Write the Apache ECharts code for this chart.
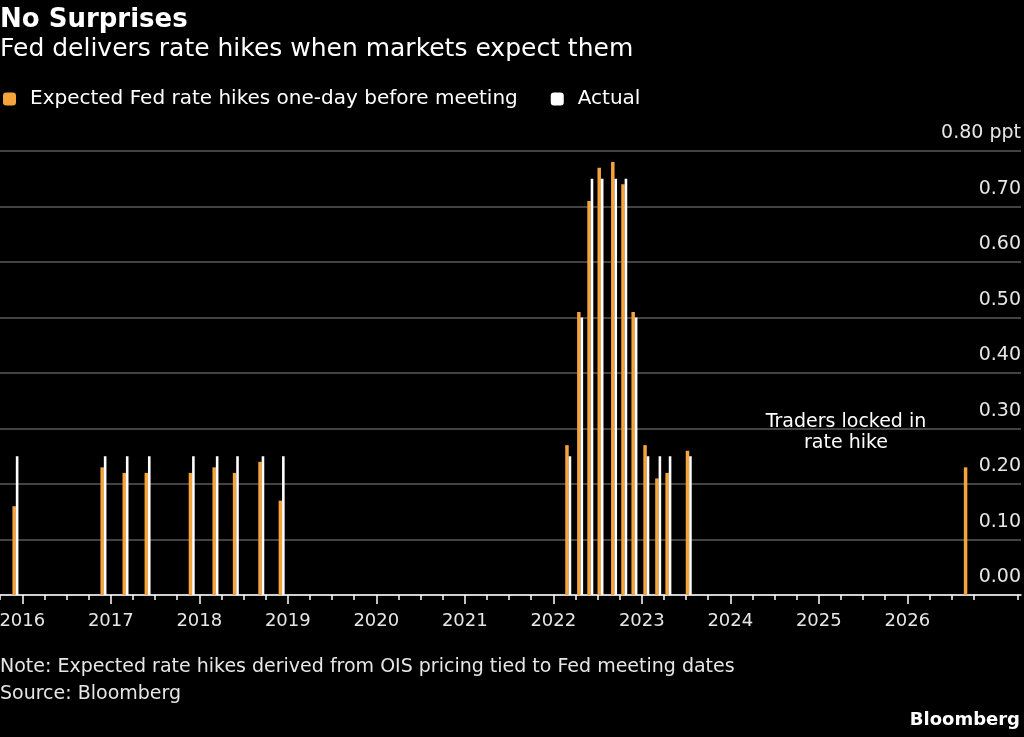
<!DOCTYPE html>
<html>
<head>
  <meta charset="UTF-8">
  <script src="https://cdn.jsdelivr.net/npm/echarts@6/dist/echarts.min.js"></script>
  <style>
    html, body { margin: 0; padding: 0; background: #000; }
    #main { width: 1024px; height: 737px; }
  </style>
</head>
<body>
  <div id="main"></div>
  <script>
    // Fed meeting dates with a hike
    var meetingDates = ['2015-12-16', '2016-12-14', '2017-03-15', '2017-06-14', '2017-12-13',
      '2018-03-21', '2018-06-13', '2018-09-26', '2018-12-19',
      '2022-03-16', '2022-05-04', '2022-06-15', '2022-07-27', '2022-09-21', '2022-11-02',
      '2022-12-14', '2023-02-01', '2023-03-22', '2023-05-03', '2023-07-26', '2026-09-16'];
    // expected hike one day before meeting (ppt)
    var expectedHikes = [0.16, 0.23, 0.22, 0.22, 0.22, 0.23, 0.22, 0.24, 0.17,
      0.27, 0.51, 0.71, 0.77, 0.78, 0.74, 0.51, 0.27, 0.21, 0.22, 0.26, 0.23];
    // actual hike delivered (ppt)
    var actualHikes = [0.25, 0.25, 0.25, 0.25, 0.25, 0.25, 0.25, 0.25, 0.25,
      0.25, 0.50, 0.75, 0.75, 0.75, 0.75, 0.50, 0.25, 0.25, 0.25, 0.25, null];
    var yearTicks = [2016, 2017, 2018, 2019, 2020, 2021, 2022, 2023, 2024, 2025, 2026];

    var ORANGE = '#F5A33C';
    var FONT = '"DejaVu Sans"';

    function toYear(d) {
      var t = Date.parse(d + 'T00:00:00Z');
      var y = new Date(t).getUTCFullYear();
      var s = Date.UTC(y, 0, 1), e = Date.UTC(y + 1, 0, 1);
      return y + (t - s) / (e - s);
    }

    function pairs(vals) {
      var out = [];
      for (var i = 0; i < meetingDates.length; i++) {
        if (vals[i] != null) out.push([toYear(meetingDates[i]), vals[i]]);
      }
      return out;
    }

    var quarterTicks = [];
    for (var y = 2015; y <= 2027; y++) {
      [0.25, 0.5, 0.75].forEach(function (q) { quarterTicks.push(y + q); });
    }

    // thin bars drawn left of the meeting date
    function barRender(dx, w) {
      return function (params, api) {
        var top = api.coord([api.value(0), api.value(1)]);
        var base = api.coord([api.value(0), 0]);
        return {
          type: 'rect',
          shape: { x: top[0] + dx, y: top[1], width: w, height: base[1] - top[1] },
          style: { fill: api.visual('color') }
        };
      };
    }

    var xMin = 2015.748, xMax = 2027.285;

    var myChart = echarts.init(document.getElementById('main'));
    myChart.setOption({
      backgroundColor: '#000',
      animation: false,
      textStyle: { fontFamily: FONT },
      title: {
        text: 'No Surprises',
        subtext: 'Fed delivers rate hikes when markets expect them',
        left: 0, top: 6, itemGap: 1, padding: 0,
        textStyle: { color: '#fff', fontSize: 26, fontWeight: 'bold', fontFamily: FONT, lineHeight: 28 },
        subtextStyle: { color: '#fff', fontSize: 25, fontFamily: FONT, lineHeight: 28 }
      },
      legend: {
        left: 3, top: 89, padding: 0,
        itemWidth: 13, itemHeight: 13, itemGap: 33,
        icon: 'roundRect',
        textStyle: { color: '#fff', fontSize: 20, fontFamily: FONT, padding: [0, 0, 0, 9] },
        data: [
          { name: 'Expected Fed rate hikes one-day before meeting', itemStyle: { color: ORANGE } },
          { name: 'Actual', itemStyle: { color: '#fff' } }
        ]
      },
      grid: { left: 0, right: 3, top: 151, bottom: 142, outerBoundsMode: 'none', containLabel: false },
      xAxis: [{
        type: 'value', position: 'bottom', min: xMin, max: xMax,
        axisLine: { show: true, lineStyle: { color: '#fff', width: 1.5 } },
        axisTick: { show: true, length: 9, customValues: yearTicks, lineStyle: { color: '#fff', width: 1.5 } },
        axisLabel: {
          customValues: yearTicks, margin: 17, color: '#e6e6e6', fontSize: 18, fontFamily: FONT,
          formatter: function (v) { return String(Math.round(v)); }
        },
        splitLine: { show: false }
      }, {
        type: 'value', position: 'bottom', min: xMin, max: xMax,
        axisLine: { show: false },
        axisTick: { show: true, length: 5, customValues: quarterTicks, lineStyle: { color: '#fff', width: 1.5 } },
        axisLabel: { show: false },
        splitLine: { show: false }
      }],
      yAxis: {
        type: 'value', position: 'right', min: 0, max: 0.8, interval: 0.1,
        axisLine: { show: false },
        axisTick: { show: false },
        axisLabel: {
          inside: true, margin: 0, color: '#e6e6e6', fontSize: 19, fontFamily: FONT,
          verticalAlign: 'bottom', padding: [0, 0, 8, 0],
          formatter: function (v) {
            return Math.abs(v - 0.8) < 1e-9 ? '0.80 ppt' : v.toFixed(2);
          }
        },
        splitLine: { lineStyle: { color: '#5a5a5a', width: 1.5 } }
      },
      series: [{
        name: 'Expected Fed rate hikes one-day before meeting',
        type: 'custom',
        itemStyle: { color: ORANGE },
        encode: { x: 0, y: 1 },
        renderItem: barRender(-6, 3.5),
        data: pairs(expectedHikes)
      }, {
        name: 'Actual',
        type: 'custom',
        itemStyle: { color: '#fff' },
        encode: { x: 0, y: 1 },
        renderItem: barRender(-2.6, 2.6),
        data: pairs(actualHikes)
      }],
      graphic: [{
        type: 'text', left: 0, top: 658,
        style: { text: 'Note: Expected rate hikes derived from OIS pricing tied to Fed meeting dates', fill: '#e6e6e6', font: '19px ' + FONT }
      }, {
        type: 'text', left: 0, top: 685,
        style: { text: 'Source: Bloomberg', fill: '#e6e6e6', font: '19px ' + FONT }
      }, {
        type: 'text', right: 4, top: 711,
        style: { text: 'Bloomberg', fill: '#fff', font: 'bold 18px ' + FONT }
      }, {
        type: 'text', x: 846, y: 412,
        style: { text: 'Traders locked in\nrate hike', fill: '#fff', font: '19px ' + FONT, align: 'center', lineHeight: 21 }
      }]
    });
  </script>
</body>
</html>
